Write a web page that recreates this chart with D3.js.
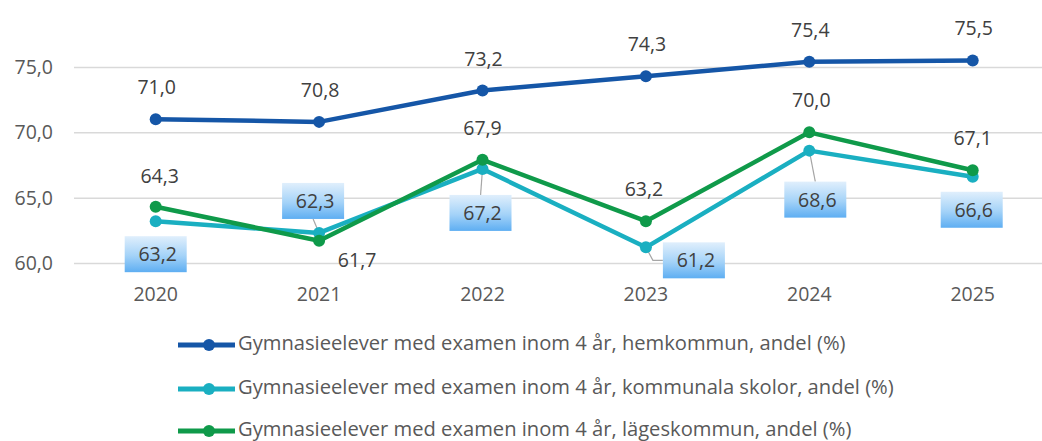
<!DOCTYPE html>
<html>
<head>
<meta charset="utf-8">
<script src="https://cdn.jsdelivr.net/npm/d3@7"></script>
<style>
  body { margin: 0; background: #fff; }
  svg { display: block; font-family: "Open Sans", sans-serif; }
</style>
</head>
<body>
<div id="chart"></div>
<script>
const years = ["2020", "2021", "2022", "2023", "2024", "2025"];
const hemkommun = [71.0, 70.8, 73.2, 74.3, 75.4, 75.5];
const kommunala = [63.2, 62.3, 67.2, 61.2, 68.6, 66.6];
const lageskommun = [64.3, 61.7, 67.9, 63.2, 70.0, 67.1];
const yTicks = [60, 65, 70, 75];
const seriesNames = [
    "Gymnasieelever med examen inom 4 år, hemkommun, andel (%)",
    "Gymnasieelever med examen inom 4 år, kommunala skolor, andel (%)",
    "Gymnasieelever med examen inom 4 år, lägeskommun, andel (%)"
];

// label placement (offset from the point), not data
const boxOffsets = [[0, 33], [-6, -32], [-2, 44], [48, 13], [6, 49], [-1, 33]];
const greenOffsets = [[4, -31], [38, 19], [0, -32], [-2, -32], [2, -32], [0, -32]];

const width = 1042, height = 441;
const fmt = v => d3.format(".1f")(v).replace(".", ",");

const series = [
    { name: seriesNames[0], values: hemkommun, color: "#1556a7" },
    { name: seriesNames[1], values: kommunala, color: "#1aafc1" },
    { name: seriesNames[2], values: lageskommun, color: "#0f9a4a" }
];

const svg = d3.select("#chart").append("svg")
    .attr("width", width)
    .attr("height", height);

const grad = svg.append("defs").append("linearGradient")
    .attr("id", "boxgrad")
    .attr("x1", 0).attr("y1", 0).attr("x2", 0).attr("y2", 1);
grad.append("stop").attr("offset", "0%").attr("stop-color", "#e0effc");
grad.append("stop").attr("offset", "55%").attr("stop-color", "#a3d2f8");
grad.append("stop").attr("offset", "100%").attr("stop-color", "#5eaef2");

const x = d3.scaleBand()
    .domain(years)
    .range([74, 74 + 6 * 163.4]);
const cx = d => x(d) + x.bandwidth() / 2;

const y = d3.scaleLinear()
    .domain([60, 75])
    .range([263, 67]);

// grid
svg.append("g")
    .attr("transform", "translate(74,0)")
    .call(d3.axisLeft(y).tickValues(yTicks).tickSize(-(6 * 163.4)).tickFormat(""))
    .call(g => g.select(".domain").remove())
    .call(g => g.selectAll(".tick line").attr("stroke", "#d9d9d9").attr("stroke-width", 1.5));

// y labels
svg.append("g")
    .selectAll("text")
    .data(yTicks)
    .enter()
    .append("text")
    .attr("x", 53)
    .attr("y", d => y(d) + 7)
    .attr("text-anchor", "end")
    .style("font-size", "19.5px")
    .style("fill", "#595959")
    .text(d => fmt(d));

// x labels
svg.append("g")
    .selectAll("text")
    .data(years)
    .enter()
    .append("text")
    .attr("x", d => cx(d))
    .attr("y", 301)
    .attr("text-anchor", "middle")
    .style("font-size", "19.5px")
    .style("fill", "#595959")
    .text(d => d);

// leader lines for the boxed labels
const leaders = svg.append("g");
kommunala.forEach((v, i) => {
    const px = cx(years[i]), py = y(v);
    const bx = px + boxOffsets[i][0], by = py + boxOffsets[i][1];
    let pts = null;
    if (i === 1) pts = [[px, py], [bx, by + 18]];
    if (i === 2) pts = [[px, py], [bx, by - 17]];
    if (i === 3) pts = [[px, py], [px + 7, by], [bx - 31, by]];
    if (i === 4) pts = [[px, py], [bx, by - 18]];
    if (pts) {
        leaders.append("path")
            .attr("d", d3.line()(pts))
            .attr("fill", "none")
            .attr("stroke", "#a6a6a6")
            .attr("stroke-width", 1.2);
    }
});

// lines + markers
const line = d3.line()
    .x((d, i) => cx(years[i]))
    .y(d => y(d));

series.forEach(s => {
    const g = svg.append("g");
    g.append("path")
        .datum(s.values)
        .attr("d", line)
        .attr("fill", "none")
        .attr("stroke", s.color)
        .attr("stroke-width", 4.5)
        .attr("stroke-linejoin", "round");
    g.selectAll("circle")
        .data(s.values)
        .enter()
        .append("circle")
        .attr("cx", (d, i) => cx(years[i]))
        .attr("cy", d => y(d))
        .attr("r", 6)
        .attr("fill", s.color);
});

// blue labels
svg.append("g")
    .selectAll("text")
    .data(hemkommun)
    .enter()
    .append("text")
    .attr("x", (d, i) => cx(years[i]) + 1)
    .attr("y", d => y(d) - 32 + 7)
    .attr("text-anchor", "middle")
    .style("font-size", "19.5px")
    .style("fill", "#404040")
    .text(d => fmt(d));

// green labels
svg.append("g")
    .selectAll("text")
    .data(lageskommun)
    .enter()
    .append("text")
    .attr("x", (d, i) => cx(years[i]) + greenOffsets[i][0])
    .attr("y", (d, i) => y(d) + greenOffsets[i][1] + 7)
    .attr("text-anchor", "middle")
    .style("font-size", "19.5px")
    .style("fill", "#404040")
    .text(d => fmt(d));

// cyan boxed labels
const boxes = svg.append("g")
    .selectAll("g")
    .data(kommunala)
    .enter()
    .append("g")
    .attr("transform", (d, i) => `translate(${cx(years[i]) + boxOffsets[i][0]}, ${y(d) + boxOffsets[i][1]})`);
boxes.append("rect")
    .attr("x", -31).attr("y", -18)
    .attr("width", 62).attr("height", 36)
    .attr("fill", "url(#boxgrad)");
boxes.append("text")
    .attr("x", 2)
    .attr("y", 7)
    .attr("text-anchor", "middle")
    .style("font-size", "19.5px")
    .style("fill", "#404040")
    .text(d => fmt(d));

// legend
const legendY = [345, 389, 431];
const legend = svg.append("g")
    .selectAll("g")
    .data(series)
    .enter()
    .append("g")
    .attr("transform", (d, i) => `translate(0, ${legendY[i]})`);
legend.append("line")
    .attr("x1", 178).attr("x2", 235)
    .attr("stroke", d => d.color)
    .attr("stroke-width", 5);
legend.append("circle")
    .attr("cx", 209)
    .attr("r", 6)
    .attr("fill", d => d.color);
const legendText = legend.append("text")
    .attr("x", 238)
    .attr("y", 5)
    .style("font-size", "17px")
    .style("fill", "#595959")
    .text(d => d.name);

// fit first legend entry to the width seen in the chart (608px)
const w0 = legendText.node().getComputedTextLength();
legendText.style("font-size", (17 * 608 / w0).toFixed(2) + "px");
</script>
</body>
</html>
